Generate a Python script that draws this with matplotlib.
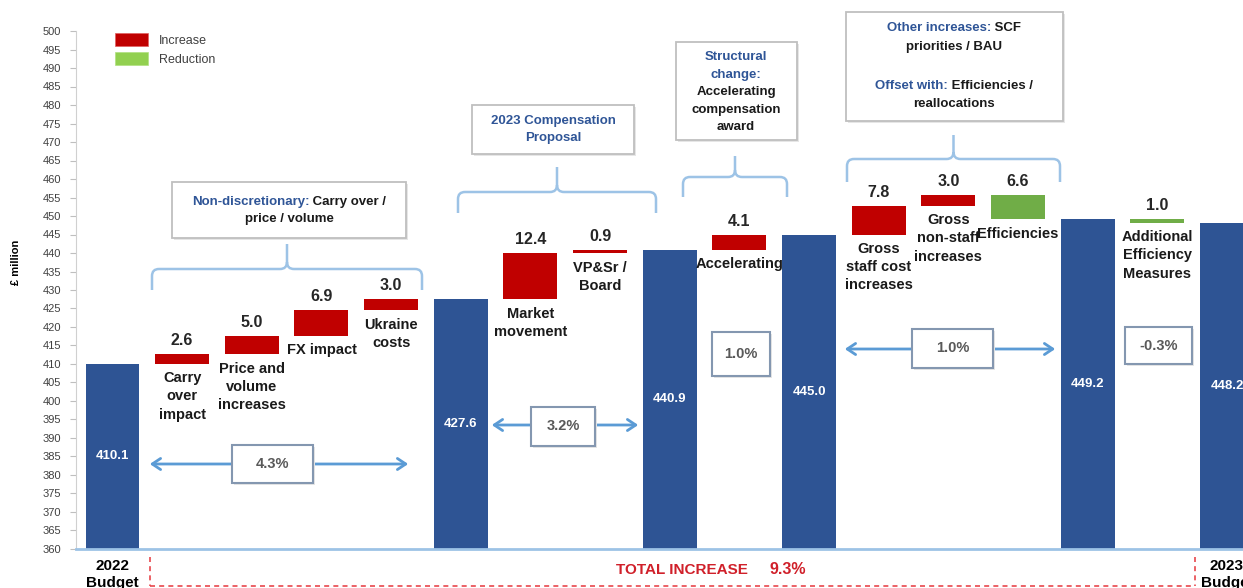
import matplotlib
matplotlib.use('Agg')
import matplotlib.pyplot as plt
from matplotlib.patches import Rectangle, Patch, FancyArrowPatch, PathPatch
from matplotlib.path import Path
from matplotlib.lines import Line2D
from matplotlib.offsetbox import TextArea, HPacker, AnnotationBbox

W, H = 1243, 588

# Budget bridge, 2022 -> 2023 (GBP million)
categories = ['2022\nBudget', 'Carry\nover\nimpact', 'Price and\nvolume\nincreases', 'FX impact',
              'Ukraine\ncosts', '', 'Market\nmovement', 'VP&Sr /\nBoard', '', 'Accelerating', '',
              'Gross\nstaff cost\nincreases', 'Gross\nnon-staff\nincreases', 'Efficiencies', '',
              'Additional\nEfficiency\nMeasures', '2023\nBudget']
step_kind = ['total', 'inc', 'inc', 'inc', 'inc', 'total', 'inc', 'inc', 'total', 'inc', 'total',
             'inc', 'inc', 'dec', 'total', 'dec', 'total']
step_value = [410.1, 2.6, 5.0, 6.9, 3.0, 427.6, 12.4, 0.9, 440.9, 4.1, 445.0,
              7.8, 3.0, 6.6, 449.2, 1.0, 448.2]
pct_labels = ['4.3%', '3.2%', '1.0%', '1.0%', '-0.3%']
total_label = 'TOTAL INCREASE'
total_pct = '9.3%'

Y_MIN, Y_MAX = 360, 500

BLUE = '#2E5494'
RED = '#C00000'
GREEN = '#70AD47'
GREEN_LEGEND = '#92D050'
TEXT_BLUE = '#2F5597'
LINE_BLUE = '#5B9BD5'
BRACE_BLUE = '#9DC3E6'
NARROW = ['Liberation Sans Narrow', 'Liberation Sans', 'DejaVu Sans']
SANS = ['Liberation Sans', 'DejaVu Sans']

fig = plt.figure(figsize=(W / 100, H / 100), dpi=100)
ax = fig.add_axes([76 / W, (H - 549) / H, 1 - 76 / W, (549 - 31) / H])


def px(x, y):
    """pixel position (from top-left) -> figure fraction"""
    return x / W, 1 - y / H


# waterfall bars
running = 0.0
bottoms, heights, colors = [], [], []
for kind, v in zip(step_kind, step_value):
    if kind == 'total':
        running = v
        bottoms.append(0)
        heights.append(v)
        colors.append(BLUE)
    elif kind == 'inc':
        bottoms.append(running)
        heights.append(v)
        colors.append(RED)
        running += v
    else:
        running -= v
        bottoms.append(running)
        heights.append(v)
        colors.append(GREEN)

xs = list(range(len(categories)))
ax.bar(xs, heights, bottom=bottoms, width=0.775, color=colors, zorder=2)

for i, (kind, v, b, h) in enumerate(zip(step_kind, step_value, bottoms, heights)):
    if kind == 'total':
        ax.text(i, (Y_MIN + v) / 2, '{:.1f}'.format(v), ha='center', va='center',
                color='white', fontsize=9.5, fontweight='bold', family=SANS, zorder=3)
    else:
        ax.annotate('{:.1f}'.format(v), (i, b + h), xytext=(0, 9.5), textcoords='offset points',
                    ha='center', va='center', fontsize=11.5, fontweight='bold',
                    color='#262626', family=SANS)
        ax.annotate(categories[i], (i, b), xytext=(0, -5.5), textcoords='offset points',
                    ha='center', va='top', fontsize=10.5, fontweight='bold', color='#1a1a1a',
                    family=NARROW, linespacing=1.38)

ax.set_xlim(-0.524, 16.23)
ax.set_ylim(Y_MIN, Y_MAX)
ax.set_yticks(range(Y_MIN, Y_MAX + 1, 5))
ax.tick_params(axis='y', length=4, width=0.8, color='#BFBFBF', pad=6.5, labelsize=8,
               labelcolor='#404040')
for lab in ax.get_yticklabels():
    lab.set_family(NARROW)
ax.set_xticks([0, 16])
ax.set_xticklabels([categories[0], categories[16]], fontsize=11, fontweight='bold',
                   family=SANS, linespacing=1.3)
ax.tick_params(axis='x', length=0, pad=7)
ax.set_ylabel('£ million', fontsize=8, fontweight='bold', family=SANS)
ax.yaxis.set_label_coords(-0.047, 0.554)
for side in ['top', 'right']:
    ax.spines[side].set_visible(False)
ax.spines['left'].set_color('#D0D0D0')
ax.spines['bottom'].set_color(BRACE_BLUE)
ax.spines['bottom'].set_linewidth(2)

# legend
handles = [Patch(fc=RED, ec='#E06060', lw=0.5, label='Increase'),
           Patch(fc=GREEN_LEGEND, ec='#B0E080', lw=0.5, label='Reduction')]
ax.legend(handles=handles, loc='upper left', bbox_to_anchor=px(115, 33),
          bbox_transform=fig.transFigure, frameon=False, borderpad=0, borderaxespad=0,
          handlelength=2.65, handleheight=1.2, handletextpad=0.85, labelspacing=0.45,
          prop={'family': SANS, 'size': 9}, labelcolor='#404040')


def box(x0, y0, x1, y1, ec='#BFBFBF', lw=1.3):
    sx, sy = px(x0 + 2, y1 + 2)
    fig.add_artist(Rectangle((sx, sy), (x1 - x0) / W, (y1 - y0) / H,
                             transform=fig.transFigure, fc='#E6E6E6', ec='none', zorder=4))
    bx, by = px(x0, y1)
    fig.add_artist(Rectangle((bx, by), (x1 - x0) / W, (y1 - y0) / H,
                             transform=fig.transFigure, fc='white', ec=ec, lw=lw, zorder=5))


def line_text(x, y, parts, size=9.5):
    """one centred line of text made of (string, colour) pieces"""
    kids = [TextArea(s, textprops=dict(color=c, fontsize=size, fontweight='bold', family=NARROW))
            for s, c in parts]
    pack = HPacker(children=kids, pad=0, sep=0, align='baseline')
    ab = AnnotationBbox(pack, px(x, y), xycoords='figure fraction', frameon=False,
                        box_alignment=(0.5, 0.5), pad=0, zorder=6)
    fig.add_artist(ab)


def brace(x0, x1, y_bar, y_end, y_tip, r=7):
    xc = (x0 + x1) / 2
    pts = [(x0, y_end), (x0, y_bar + r), (x0, y_bar), (x0 + r, y_bar), (xc - r, y_bar),
           (xc, y_bar), (xc, y_bar - r), (xc, y_tip),
           (x1, y_end), (x1, y_bar + r), (x1, y_bar), (x1 - r, y_bar), (xc + r, y_bar),
           (xc, y_bar), (xc, y_bar - r)]
    codes = [Path.MOVETO, Path.LINETO, Path.CURVE3, Path.CURVE3, Path.LINETO,
             Path.CURVE3, Path.CURVE3, Path.LINETO,
             Path.MOVETO, Path.LINETO, Path.CURVE3, Path.CURVE3, Path.LINETO,
             Path.CURVE3, Path.CURVE3]
    verts = [px(x, y) for x, y in pts]
    fig.add_artist(PathPatch(Path(verts, codes), transform=fig.transFigure, fill=False,
                             ec=BRACE_BLUE, lw=1.8, zorder=4))


# callouts over each group of drivers
brace(152, 422, 269, 290, 244)
box(172, 182, 406, 238)
line_text(289, 202, [('Non-discretionary:', TEXT_BLUE), (' Carry over /', '#1a1a1a')])
line_text(289, 219, [('price / volume', '#1a1a1a')])

brace(458, 656, 192, 213, 167)
box(472, 105, 634, 154)
line_text(553, 121, [('2023 Compensation', TEXT_BLUE)])
line_text(553, 138, [('Proposal', TEXT_BLUE)])

brace(683, 787, 177, 197, 156)
box(676, 42, 797, 140)
for y, s, c in [(57, 'Structural', TEXT_BLUE), (75, 'change:', TEXT_BLUE),
                (92, 'Accelerating', '#1a1a1a'), (110, 'compensation', '#1a1a1a'),
                (127, 'award', '#1a1a1a')]:
    line_text(736, y, [(s, c)])

brace(847, 1060, 159, 182, 135)
box(846, 12, 1063, 121)
line_text(954, 28, [('Other increases:', TEXT_BLUE), (' SCF', '#1a1a1a')])
line_text(954, 47, [('priorities / BAU', '#1a1a1a')])
line_text(954, 86, [('Offset with:', TEXT_BLUE), (' Efficiencies /', '#1a1a1a')])
line_text(954, 104, [('reallocations', '#1a1a1a')])


# growth arrows with percentage boxes
def growth(label, bx0, by0, bx1, by1, arrow=None):
    if arrow is not None:
        ax0, ax1, ay = arrow
        fig.add_artist(FancyArrowPatch(px(ax0, ay), px(ax1, ay), transform=fig.transFigure,
                                       arrowstyle='<->,head_length=6,head_width=4',
                                       color=LINE_BLUE, lw=2, zorder=4))
    box(bx0, by0, bx1, by1, ec='#8497B0', lw=1.5)
    fig.text(*px((bx0 + bx1) / 2, (by0 + by1) / 2), label, ha='center', va='center',
             fontsize=10.5, color='#595959', fontweight='bold', family=NARROW, zorder=6)


growth(pct_labels[0], 232, 445, 313, 483, arrow=(147, 411, 464))
growth(pct_labels[1], 531, 407, 595, 446, arrow=(489, 641, 425))
growth(pct_labels[2], 712, 332, 770, 376)
growth(pct_labels[3], 912, 329, 993, 368, arrow=(842, 1058, 349))
growth(pct_labels[4], 1125, 327, 1192, 364)

# dashed bracket for the total change
dash = dict(color='#E8474C', lw=1.2, ls=(0, (3, 2.5)), transform=fig.transFigure, zorder=4)
for (xa, ya), (xb, yb) in [((150, 557), (150, 586)), ((150, 586), (1195, 586)),
                           ((1195, 557), (1195, 586))]:
    p0, p1 = px(xa, ya), px(xb, yb)
    fig.add_artist(Line2D([p0[0], p1[0]], [p0[1], p1[1]], **dash))
fig.text(*px(682, 570), total_label, ha='center', va='center', color='#D0202A',
         fontsize=11, fontweight='bold', family=SANS)
fig.text(*px(788, 570), total_pct, ha='center', va='center', color='#D0202A',
         fontsize=11.5, fontweight='bold', family=SANS)

fig.savefig('out.png', dpi=100)
